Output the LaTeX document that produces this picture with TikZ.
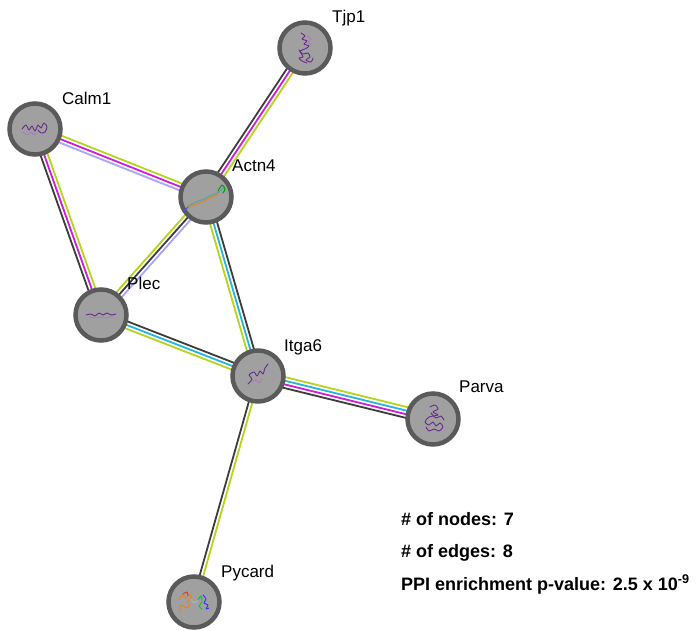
\documentclass[tikz,border=0pt]{standalone}
\usepackage{fontspec}
\setmainfont{Liberation Sans}
\usetikzlibrary{calc,backgrounds}

% node and evidence-channel colours
\definecolor{nodefill}{HTML}{A0A0A0}
\definecolor{nodeline}{HTML}{5A5A5A}
\definecolor{coexp}{HTML}{3C3C3C}
\definecolor{experim}{HTML}{D21BD8}
\definecolor{database}{HTML}{22B6DE}
\definecolor{textmine}{HTML}{B5D41C}
\definecolor{homology}{HTML}{A9A4FA}
\definecolor{struct}{HTML}{6B2A8E}

\tikzset{
  protein/.style={circle, draw=nodeline, fill=nodefill, line width=4.5pt,
                  minimum size=51pt, inner sep=0pt},
  lbl/.style={anchor=base west, inner sep=0pt, font=\fontsize{17}{20}\selectfont},
  stat/.style={anchor=base west, inner sep=0pt, font=\bfseries\fontsize{18}{21}\selectfont},
  band/.style={line width=1.8pt},
  glyph/.style={line width=0.9pt, line join=round, line cap=round},
}

% one interaction: a bundle of parallel coloured lines, #3 = colour/offset list
\newcommand\stredge[3]{%
  \foreach \c/\o in {#3}
    \draw[band,\c] ($(#1)!\o!90:(#2)$) -- ($(#2)!\o!-90:(#1)$);}

\begin{document}
\begin{tikzpicture}[x=1pt,y=1pt]
\useasboundingbox (0,0) rectangle (699,-631);

% proteins
\node[protein] (tjp1)   at (305,-48)  {};
\node[protein] (calm1)  at (35,-129)  {};
\node[protein] (actn4)  at (206,-197) {};
\node[protein] (plec)   at (101,-315) {};
\node[protein] (itga6)  at (258,-376) {};
\node[protein] (parva)  at (433,-419) {};
\node[protein] (pycard) at (194,-602) {};

% names
\node[lbl] (tjp1-l)   at ($(tjp1)+(27,25)$)   {Tjp1};
\node[lbl] (calm1-l)  at ($(calm1)+(27,24)$)  {Calm1};
\node[lbl] (actn4-l)  at ($(actn4)+(26,25)$)  {Actn4};
\node[lbl] (plec-l)   at ($(plec)+(26,26)$)   {Plec};
\node[lbl] (itga6-l)  at ($(itga6)+(26,25)$)  {Itga6};
\node[lbl] (parva-l)  at ($(parva)+(26,27)$)  {Parva};
\node[lbl] (pycard-l) at ($(pycard)+(27,25)$) {Pycard};

% small structure sketches inside the circles
\begin{scope}[shift={(tjp1)}]
  \draw[glyph,struct] plot[smooth] coordinates {(-4,15) (0,12) (-3,9) (2,7) (-1,4) (4,2) (0,-1) (-5,-3) (-2,-6) (3,-5) (5,-9) (1,-12) (6,-14) (8,-10)};
  \draw[glyph,struct] plot[smooth] coordinates {(-6,-2) (-2,-9) (-6,-10) (-3,-13) (2,-15)};
  \draw[glyph,struct!60] plot[smooth] coordinates {(2,12) (6,9) (3,6) (7,3)};
\end{scope}
\begin{scope}[shift={(calm1)}]
  \draw[glyph,struct] plot[smooth] coordinates {(-13,0) (-9,4) (-6,-1) (-3,3) (0,-2) (3,4) (6,1) (9,6) (12,2) (10,-3) (6,-4) (3,-1)};
  \draw[glyph,struct!60] plot[smooth] coordinates {(-12,-3) (-8,-6) (-4,-3) (-1,-6) (2,-4)};
\end{scope}
\begin{scope}[shift={(actn4)}]
  \draw[glyph,teal!70] plot[smooth] coordinates {(-18,-9) (-10,-5) (-2,-2) (6,2) (13,5) (18,10)};
  \draw[glyph,orange!70!brown] plot[smooth] coordinates {(-20,-12) (-12,-8) (-4,-5) (4,-1) (12,3)};
  \draw[glyph,blue!70] (-22,-14) -- (-18,-10);
  \draw[glyph,green!60!black] plot[smooth] coordinates {(12,6) (16,12) (19,8) (17,4)};
\end{scope}
\begin{scope}[shift={(plec)}]
  \draw[glyph,struct] plot[smooth] coordinates {(-15,0) (-10,1) (-6,-1) (-2,2) (2,0) (6,2) (10,0) (15,1)};
  \draw[glyph,struct!60] plot[smooth] coordinates {(-12,-2) (-6,-3) (0,-2) (6,-3) (12,-1)};
\end{scope}
\begin{scope}[shift={(itga6)}]
  \draw[glyph,struct] plot[smooth] coordinates {(-10,-8) (-6,-3) (-9,1) (-4,4) (-1,0) (2,5) (5,2) (7,8) (10,12)};
  \draw[glyph,struct!60] plot[smooth] coordinates {(-6,-6) (-2,-4) (1,-7) (4,-3)};
\end{scope}
\begin{scope}[shift={(parva)}]
  \draw[glyph,struct] plot[smooth] coordinates {(-3,12) (2,14) (5,10) (0,7) (5,4) (-4,2) (-8,-3) (-4,-6) (0,-3) (3,-7) (7,-4) (10,-8) (6,-12) (1,-10) (-4,-12) (-7,-8)};
  \draw[glyph,struct] plot[smooth] coordinates {(-2,6) (3,1) (8,3) (11,-1)};
\end{scope}
\begin{scope}[shift={(pycard)}]
  \draw[glyph,orange!80!brown] plot[smooth] coordinates {(-15,2) (-12,7) (-8,4) (-4,8) (-3,3) (-7,0) (-4,-3) (-8,-6) (-12,-3) (-15,-6) (-12,-9)};
  \draw[glyph,red!60!brown] plot[smooth] coordinates {(-11,8) (-7,10) (-6,6)};
  \draw[glyph,gray!60] plot[smooth] coordinates {(-3,3) (0,-1) (4,2)};
  \draw[glyph,green!55!teal] plot[smooth] coordinates {(4,2) (7,6) (8,0) (5,-4) (8,-7)};
  \draw[glyph,blue!80] plot[smooth] coordinates {(9,7) (12,3) (10,-1) (14,-3) (12,-7) (15,-6)};
\end{scope}

% network statistics
\node[stat] (nnodes) at (401,-525) {\# of nodes: 7};
\node[stat] (nedges) at (401,-557) {\# of edges: 8};
\node[stat] (ppi)    at (401,-590) {PPI enrichment p-value: 2.5 x 10\textsuperscript{-9}};

% interactions, drawn under the proteins
\begin{pgfonlayer}{background}
  \fill[white] (0,0) rectangle (699,-631);
  \stredge{actn4}{tjp1}{coexp/3.6pt, experim/0pt, textmine/-3.6pt}
  \stredge{calm1}{actn4}{textmine/3.6pt, experim/0pt, homology/-3.6pt}
  \stredge{calm1}{plec}{textmine/3.6pt, experim/0pt, coexp/-3.6pt}
  \stredge{plec}{actn4}{textmine/3.6pt, coexp/0pt, homology/-3.6pt}
  \stredge{itga6}{actn4}{textmine/3.6pt, database/0pt, coexp/-3.6pt}
  \stredge{plec}{itga6}{coexp/3.6pt, database/0pt, textmine/-3.6pt}
  \stredge{itga6}{parva}{textmine/5.4pt, database/1.8pt, experim/-1.8pt, coexp/-5.4pt}
  \stredge{pycard}{itga6}{coexp/1.8pt, textmine/-1.8pt}
\end{pgfonlayer}
\end{tikzpicture}
\end{document}
